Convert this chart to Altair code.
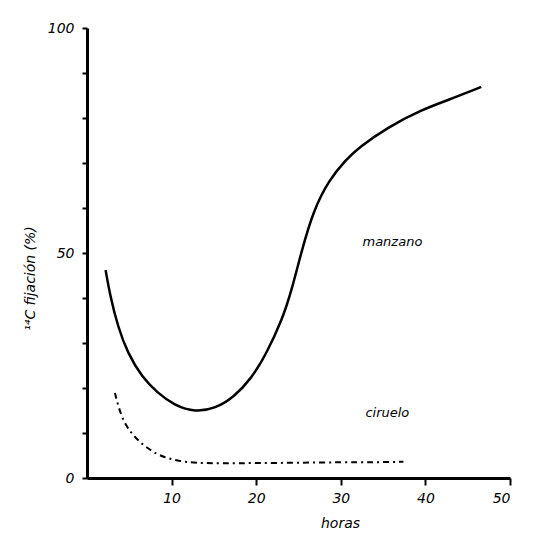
import altair as alt
import pandas as pd

manzano_t = [2.2, 2.7, 3.65, 4.8, 6.5, 8.35, 10.3, 12.8, 15.2, 17.3, 19.4, 21.2, 23.1, 24.2, 25.4, 26.8, 28.6, 30.6, 32.1, 35.6, 39.5, 42.7, 46.6]
manzano_v = [46.2, 40.8, 33.6, 27.8, 22.4, 18.9, 16.2, 14.6, 15.5, 17.9, 22.0, 27.6, 35.3, 41.8, 50.7, 59.6, 66.2, 70.7, 73.4, 78.0, 81.8, 84.0, 86.9]

ciruelo_t = [3.3, 4.2, 5.9, 8.2, 10.6, 12.9, 16.0, 20.0, 25.0, 30.0, 34.0, 37.4]
ciruelo_v = [18.9, 12.4, 8.4, 5.1, 3.8, 3.3, 3.3, 3.3, 3.4, 3.5, 3.5, 3.6]

x_ticks = [10, 20, 30, 40, 50]
y_ticks = [0, 10, 20, 30, 40, 50, 60, 70, 80, 90, 100]

df_m = pd.DataFrame({"t": manzano_t, "v": manzano_v})
df_c = pd.DataFrame({"t": ciruelo_t, "v": ciruelo_v})
df_lab = pd.DataFrame({"t": [36.1, 35.5], "v": [52.4, 14.4], "txt": ["manzano", "ciruelo"]})

FONT = "DejaVu Sans"

x_enc = alt.X("t:Q", scale=alt.Scale(domain=[0, 50], nice=False),
              axis=alt.Axis(values=x_ticks, title="horas", titleFontStyle="italic",
                            titleFontWeight="normal", titleFontSize=14, titleX=253, titleY=38,
                            labelFontStyle="italic", labelFontSize=14, labelPadding=6,
                            tickSize=7, tickWidth=2, domainWidth=3, domainColor="black",
                            tickColor="black", labelColor="black", titleColor="black", grid=False,
                            titleFont=FONT, labelFont=FONT))
y_enc = alt.Y("v:Q", scale=alt.Scale(domain=[0, 100], nice=False),
              axis=alt.Axis(values=y_ticks, title="¹⁴C fijación (%)", titleFontStyle="italic",
                            titleFontWeight="normal", titleFontSize=14, titleX=-50, titleY=250,
                            labelExpr="datum.value % 50 == 0 ? datum.label : ''",
                            labelFontStyle="italic", labelFontSize=14, labelPadding=8,
                            tickSize=5, tickWidth=2, domainWidth=3, domainColor="black",
                            tickColor="black", labelColor="black", titleColor="black", grid=False,
                            titleFont=FONT, labelFont=FONT))

m_line = alt.Chart(df_m).mark_line(color="black", strokeWidth=2.5, interpolate="basis").encode(
    x=x_enc, y=y_enc)
c_line = alt.Chart(df_c).mark_line(color="black", strokeWidth=2, strokeDash=[6, 4, 2, 4],
                                   interpolate="basis").encode(x="t:Q", y="v:Q")
labels = alt.Chart(df_lab).mark_text(font=FONT, fontSize=13, fontStyle="italic", color="black",
                                     align="center").encode(x="t:Q", y="v:Q", text="txt:N")

chart = alt.layer(m_line, c_line, labels).properties(
    width=423, height=450,
    autosize=alt.AutoSizeParams(type="none"),
    padding={"left": 79, "top": 20, "right": 30, "bottom": 60},
).configure(background="white").configure_view(stroke=None)

chart.save("out.html", embed_options={"renderer": "svg", "actions": False})
